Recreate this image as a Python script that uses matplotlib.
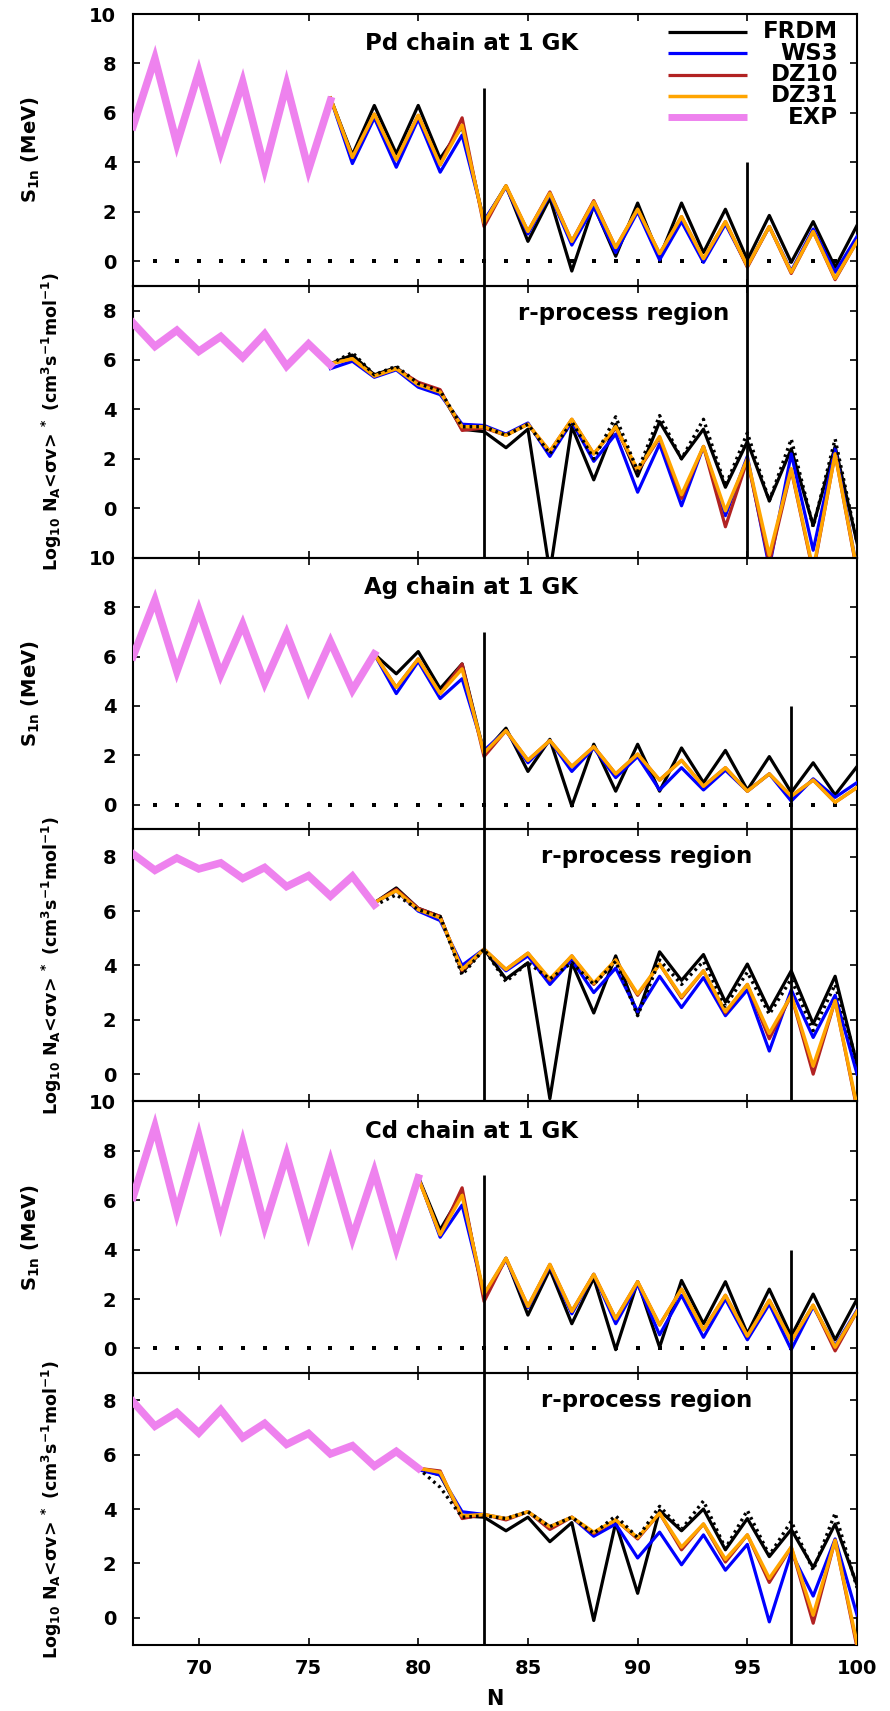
import numpy as np
import matplotlib
matplotlib.use("Agg")
import matplotlib.pyplot as plt

plt.rcParams['font.family'] = ['DejaVu Sans']
plt.rcParams['font.weight'] = 'bold'
plt.rcParams['axes.labelweight'] = 'bold'
plt.rcParams['mathtext.fontset'] = 'dejavusans'
plt.rcParams['mathtext.default'] = 'bf'

# ---------------- data ----------------
models = ["FRDM", "WS3", "DZ10", "DZ31", "EXP"]

# Pd chain
pd_N_exp = np.arange(67, 77)
pd_N_th = np.arange(76, 101)
pd_s1n_exp = [5.45, 8.2, 4.75, 7.65, 4.45, 7.25, 3.75, 7.15, 3.7, 6.5]
pd_s1n_frdm = [6.6, 4.3, 6.3, 4.35, 6.3, 4.15, 5.45, 1.6, 3.05, 0.8, 2.55, -0.4, 2.25, 0.2, 2.35, 0.15, 2.35, 0.35, 2.1, 0.05, 1.85, -0.05, 1.6, -0.25, 1.45]
pd_s1n_ws3 = [6.6, 3.95, 5.8, 3.8, 5.75, 3.6, 5.1, 1.65, 3.0, 1.1, 2.7, 0.65, 2.2, 0.35, 2.0, 0.05, 1.6, -0.05, 1.5, -0.2, 1.4, -0.4, 1.3, -0.45, 1.0]
pd_s1n_dz10 = [6.6, 4.2, 5.95, 4.1, 5.9, 3.9, 5.8, 1.4, 3.05, 1.2, 2.8, 0.8, 2.45, 0.55, 2.1, 0.3, 1.8, 0.1, 1.6, -0.25, 1.4, -0.5, 1.2, -0.75, 0.8]
pd_s1n_dz31 = [6.6, 4.2, 5.95, 4.1, 5.9, 3.9, 5.5, 1.55, 3.05, 1.2, 2.75, 0.8, 2.4, 0.55, 2.1, 0.3, 1.8, 0.1, 1.6, -0.2, 1.4, -0.45, 1.2, -0.7, 0.8]

pd_rate_exp = [7.5, 6.55, 7.2, 6.35, 6.95, 6.1, 7.05, 5.75, 6.65, 5.8]
pd_rate_frdm = [5.85, 6.2, 5.4, 5.7, 5.0, 4.7, 3.2, 3.1, 2.45, 3.2, -2.6, 3.3, 1.15, 3.4, 1.3, 3.5, 2.0, 3.2, 0.85, 2.7, 0.3, 2.4, -0.7, 2.5, -1.4]
pd_rate_frdm_dot = [5.85, 6.3, 5.4, 5.75, 5.05, 4.75, 3.3, 3.3, 2.95, 3.4, 2.2, 3.5, 2.0, 3.7, 1.5, 3.75, 2.0, 3.6, 0.9, 3.05, 0.3, 2.8, -0.75, 2.8, -1.4]
pd_rate_ws3 = [5.65, 5.95, 5.3, 5.6, 4.9, 4.6, 3.4, 3.35, 3.0, 3.45, 2.1, 3.5, 1.9, 3.0, 0.65, 2.6, 0.1, 2.5, -0.3, 2.1, -2.4, 2.2, -1.7, 2.4, -2.5]
pd_rate_dz10 = [5.85, 6.05, 5.35, 5.65, 5.1, 4.8, 3.15, 3.25, 2.95, 3.4, 2.3, 3.6, 2.2, 3.25, 1.5, 2.85, 0.4, 2.5, -0.75, 1.95, -2.2, 1.55, -2.6, 2.2, -2.6]
pd_rate_dz31 = [5.85, 6.05, 5.35, 5.65, 5.0, 4.7, 3.3, 3.3, 2.95, 3.4, 2.3, 3.6, 2.2, 3.3, 1.55, 2.9, 0.55, 2.5, -0.1, 2.0, -1.9, 1.6, -2.5, 2.2, -2.5]

# Ag chain
ag_N_exp = np.arange(67, 79)
ag_N_th = np.arange(78, 101)
ag_s1n_exp = [6.0, 8.28, 5.4, 7.88, 5.27, 7.3, 4.93, 6.93, 4.64, 6.6, 4.64, 6.1]
ag_s1n_frdm = [6.1, 5.3, 6.2, 4.7, 5.7, 2.1, 3.1, 1.35, 2.65, -0.05, 2.45, 0.55, 2.45, 0.55, 2.3, 0.9, 2.2, 0.6, 1.95, 0.5, 1.7, 0.4, 1.55]
ag_s1n_ws3 = [6.1, 4.5, 5.8, 4.3, 5.1, 2.2, 3.0, 1.7, 2.6, 1.35, 2.3, 1.1, 1.95, 0.6, 1.5, 0.6, 1.4, 0.55, 1.25, 0.15, 1.05, 0.3, 0.9]
ag_s1n_dz10 = [6.1, 4.75, 5.9, 4.5, 5.7, 1.95, 3.0, 1.8, 2.6, 1.55, 2.35, 1.25, 2.05, 1.0, 1.8, 0.75, 1.5, 0.55, 1.25, 0.35, 1.0, 0.1, 0.7]
ag_s1n_dz31 = [6.1, 4.75, 5.9, 4.5, 5.5, 2.1, 3.0, 1.8, 2.6, 1.55, 2.35, 1.25, 2.05, 1.0, 1.8, 0.75, 1.5, 0.55, 1.25, 0.35, 1.0, 0.1, 0.7]

ag_rate_exp = [8.1, 7.5, 7.95, 7.55, 7.77, 7.2, 7.6, 6.9, 7.3, 6.55, 7.28, 6.23]
ag_rate_frdm = [6.3, 6.85, 6.1, 5.8, 3.75, 4.6, 3.5, 4.1, -0.9, 4.1, 2.25, 4.35, 2.2, 4.5, 3.45, 4.4, 2.65, 4.05, 2.35, 3.8, 1.85, 3.6, 0.35]
ag_rate_frdm_dot = [6.2, 6.6, 6.05, 5.8, 3.65, 4.6, 3.4, 4.1, 3.5, 4.1, 3.3, 4.15, 2.15, 4.2, 3.3, 4.15, 2.5, 3.75, 2.2, 3.5, 1.6, 3.3, 0.4]
ag_rate_ws3 = [6.3, 6.75, 6.0, 5.65, 4.0, 4.6, 3.8, 4.35, 3.3, 4.2, 3.0, 3.9, 2.3, 3.6, 2.45, 3.55, 2.15, 3.1, 0.85, 3.1, 1.35, 2.9, 0.0]
ag_rate_dz10 = [6.3, 6.8, 6.1, 5.8, 3.8, 4.6, 3.85, 4.45, 3.45, 4.35, 3.3, 4.2, 2.9, 4.05, 2.8, 3.8, 2.25, 3.3, 1.3, 2.9, 0.0, 2.7, -1.3]
ag_rate_dz31 = [6.3, 6.75, 6.05, 5.75, 3.85, 4.6, 3.85, 4.45, 3.5, 4.35, 3.35, 4.2, 2.95, 4.05, 2.85, 3.8, 2.3, 3.3, 1.5, 2.9, 0.3, 2.7, -1.2]

# Cd chain
cd_N_exp = np.arange(67, 81)
cd_N_th = np.arange(80, 101)
cd_s1n_exp = [6.12, 8.97, 5.5, 8.6, 5.1, 8.32, 4.95, 7.82, 4.65, 7.55, 4.47, 7.15, 4.07, 6.9]
cd_s1n_frdm = [6.95, 4.8, 6.3, 2.1, 3.65, 1.35, 3.2, 1.0, 2.85, -0.05, 2.7, 0.05, 2.75, 1.0, 2.7, 0.6, 2.4, 0.5, 2.2, 0.35, 2.0]
cd_s1n_ws3 = [6.95, 4.5, 5.8, 2.2, 3.6, 1.65, 3.35, 1.4, 3.0, 1.0, 2.6, 0.55, 2.15, 0.45, 2.0, 0.35, 1.8, -0.05, 1.7, 0.1, 1.55]
cd_s1n_dz10 = [6.9, 4.6, 6.5, 1.9, 3.65, 1.7, 3.4, 1.5, 3.0, 1.2, 2.7, 0.95, 2.4, 0.75, 2.15, 0.5, 1.95, 0.3, 1.75, -0.1, 1.5]
cd_s1n_dz31 = [6.9, 4.6, 6.2, 2.2, 3.65, 1.7, 3.4, 1.5, 3.0, 1.2, 2.7, 0.95, 2.4, 0.75, 2.15, 0.5, 1.95, 0.3, 1.75, 0.05, 1.5]

cd_rate_exp = [7.95, 7.05, 7.55, 6.8, 7.65, 6.63, 7.15, 6.38, 6.78, 6.03, 6.33, 5.58, 6.12, 5.5]
cd_rate_frdm = [5.5, 5.25, 3.75, 3.7, 3.2, 3.7, 2.8, 3.5, -0.1, 3.5, 0.9, 3.95, 3.2, 4.0, 2.5, 3.65, 2.25, 3.25, 1.85, 3.45, 1.2]
cd_rate_frdm_dot = [5.5, 4.8, 3.7, 3.75, 3.65, 3.9, 3.35, 3.7, 3.1, 3.75, 2.95, 4.1, 3.25, 4.3, 2.55, 3.95, 2.3, 3.55, 1.75, 3.85, 1.1]
cd_rate_ws3 = [5.45, 5.25, 3.9, 3.8, 3.65, 3.9, 3.35, 3.7, 3.0, 3.45, 2.2, 3.15, 1.95, 3.05, 1.75, 2.7, -0.15, 2.4, 0.8, 2.9, 0.1]
cd_rate_dz10 = [5.5, 5.4, 3.65, 3.8, 3.6, 3.9, 3.25, 3.7, 3.1, 3.6, 2.9, 3.85, 2.5, 3.45, 2.05, 3.05, 1.3, 2.6, -0.2, 2.85, -1.1]
cd_rate_dz31 = [5.5, 5.35, 3.75, 3.8, 3.65, 3.9, 3.35, 3.7, 3.15, 3.6, 2.95, 3.85, 2.6, 3.45, 2.15, 3.05, 1.45, 2.6, 0.1, 2.85, -0.95]

chain_titles = ["Pd chain at 1 GK", "Ag chain at 1 GK", "Cd chain at 1 GK"]
magic_N = 83
second_N = [95, 97, 97]
zero_grid_N = np.arange(68, 100)
x_ticks = [70, 75, 80, 85, 90, 95, 100]

# ---------------- style ----------------
colors = {"FRDM": "black", "WS3": "#0000ff", "DZ10": "#b22222", "DZ31": "#ffa500", "EXP": "#ee82ee"}
widths = {"FRDM": 2.3, "WS3": 2.3, "DZ10": 2.3, "DZ31": 2.5, "EXP": 5.5}

fig = plt.figure(figsize=(8.9, 17.11), dpi=100)
left, right, bottom, top = 0.1494, 0.963, 0.0386, 0.9918
h = (top - bottom) / 6
axes = []
for i in range(6):
    ax = fig.add_axes([left, top - (i + 1) * h, right - left, h])
    axes.append(ax)

chains = [
    (pd_N_exp, pd_N_th, pd_s1n_exp, [pd_s1n_frdm, pd_s1n_ws3, pd_s1n_dz10, pd_s1n_dz31],
     pd_rate_exp, [pd_rate_frdm, pd_rate_ws3, pd_rate_dz10, pd_rate_dz31], pd_rate_frdm_dot, (-2, 9)),
    (ag_N_exp, ag_N_th, ag_s1n_exp, [ag_s1n_frdm, ag_s1n_ws3, ag_s1n_dz10, ag_s1n_dz31],
     ag_rate_exp, [ag_rate_frdm, ag_rate_ws3, ag_rate_dz10, ag_rate_dz31], ag_rate_frdm_dot, (-1, 9)),
    (cd_N_exp, cd_N_th, cd_s1n_exp, [cd_s1n_frdm, cd_s1n_ws3, cd_s1n_dz10, cd_s1n_dz31],
     cd_rate_exp, [cd_rate_frdm, cd_rate_ws3, cd_rate_dz10, cd_rate_dz31], cd_rate_frdm_dot, (-1, 9)),
]

tick_fs = 14
title_fs = 16.5
for c, (Ne, Nt, s_exp, s_th, r_exp, r_th, r_dot, rlim) in enumerate(chains):
    ax_s = axes[2 * c]
    ax_r = axes[2 * c + 1]
    # S1n panel
    ax_s.plot(zero_grid_N, np.zeros(len(zero_grid_N)), ls='none', marker='s', ms=2.4,
              mew=0, color='black', zorder=1)
    for name, ys in zip(models[:4], s_th):
        ax_s.plot(Nt, ys, color=colors[name], lw=widths[name], zorder=3)
    ax_s.plot(Ne, s_exp, color=colors["EXP"], lw=widths["EXP"], zorder=4, solid_joinstyle='miter')
    ax_s.set_ylim(-1, 10)
    ax_s.set_yticks([0, 2, 4, 6, 8, 10])
    ax_s.vlines(magic_N, -1, 7, color='black', lw=2.0, zorder=5)
    ax_s.vlines(second_N[c], -1, 4, color='black', lw=2.0, zorder=5)
    ax_s.text(0.467, 0.89, chain_titles[c], transform=ax_s.transAxes, ha='center', va='center',
              fontsize=title_fs, fontweight='bold')
    ax_s.set_ylabel(r'S$_{1n}$ (MeV)', fontsize=14)
    ax_s.yaxis.set_label_coords(-0.125, 0.5)

    # rate panel
    for name, ys in zip(models[:4], r_th):
        ax_r.plot(Nt, ys, color=colors[name], lw=widths[name], zorder=3)
    ax_r.plot(Nt, r_dot, color='black', lw=2.4, ls=(0, (0.8, 1.2)), zorder=3.5)
    ax_r.plot(Ne, r_exp, color=colors["EXP"], lw=widths["EXP"], zorder=4, solid_joinstyle='miter')
    ax_r.set_ylim(*rlim)
    ax_r.set_yticks([0, 2, 4, 6, 8])
    ax_r.axvline(magic_N, color='black', lw=2.0, zorder=5)
    ax_r.axvline(second_N[c], color='black', lw=2.0, zorder=5)
    ax_r.text(0.677 if c == 0 else 0.709, 0.90, "r-process region", transform=ax_r.transAxes,
              ha='center', va='center', fontsize=title_fs, fontweight='bold')
    ax_r.set_ylabel(r'Log$_{10}$ N$_A$<$\sigma$v>$^{\ *}$ (cm$^3$s$^{-1}$mol$^{-1}$)', fontsize=12.5)
    ax_r.yaxis.set_label_coords(-0.095, 0.5)

for i, ax in enumerate(axes):
    ax.set_xlim(67, 100)
    ax.set_xticks(x_ticks)
    ax.tick_params(direction='in', length=5, width=1.2, top=True, right=True,
                   labelsize=tick_fs, pad=10)
    ax.tick_params(axis='y', pad=12)
    for lab in ax.get_xticklabels() + ax.get_yticklabels():
        lab.set_fontweight('bold')
    for sp in ax.spines.values():
        sp.set_linewidth(1.5)
    if i < 5:
        ax.tick_params(labelbottom=False)
    ax.patch.set_alpha(0)

axes[-1].set_xlabel('N', fontsize=15, labelpad=8)

# legend (gnuplot-style: sample then right-aligned text)
ax0 = axes[0]
for k, name in enumerate(models):
    yk = 0.934 - k * 0.0785
    ax0.plot([0.739, 0.848], [yk, yk], transform=ax0.transAxes, color=colors[name],
             lw=widths[name] if name != "EXP" else 5.0, solid_capstyle='butt', zorder=6)
    ax0.text(0.974, yk, name, transform=ax0.transAxes, ha='right', va='center',
             fontsize=title_fs, fontweight='bold', zorder=6)

fig.savefig('out.png', dpi=100)
